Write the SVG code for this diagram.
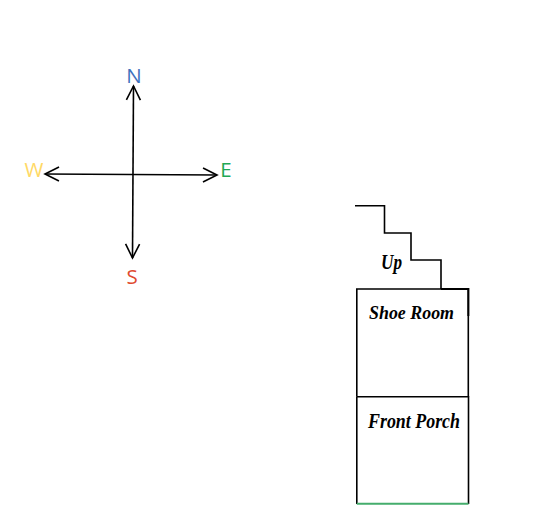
<svg xmlns="http://www.w3.org/2000/svg" width="558" height="530" viewBox="0 0 558 530">
  <style>
    .ln { fill: none; stroke: #000; stroke-width: 1.6; }
    .dir { font-family: "Open Sans", "Liberation Sans", sans-serif; font-size: 20.5px; text-anchor: middle; }
    .hand { font-family: "Liberation Serif", serif; font-style: italic; font-weight: bold; fill: #000; }
  </style>
  <defs>
    <marker id="open" markerUnits="userSpaceOnUse" markerWidth="18" markerHeight="18" refX="15" refY="8" orient="auto-start-reverse" viewBox="0 0 18 18">
      <path d="M1 1 L15 8 L1 15" fill="none" stroke="#000" stroke-width="1.6"/>
    </marker>
  </defs>
  <rect width="558" height="530" fill="#fff"/>
  <g id="connectors">
    <line class="ln" x1="133.5" y1="86" x2="132.5" y2="258" marker-start="url(#open)" marker-end="url(#open)"/>
    <line class="ln" x1="45" y1="174" x2="217" y2="175" marker-start="url(#open)" marker-end="url(#open)"/>
  </g>
  <g id="north"><text class="dir" x="134" y="83" fill="#3f72bd">N</text></g>
  <g id="west"><text class="dir" x="34" y="177" fill="#ffd966">W</text></g>
  <g id="east"><text class="dir" x="226" y="177" fill="#1fa855">E</text></g>
  <g id="south"><text class="dir" x="132" y="284" fill="#e04a2f">S</text></g>
  <g id="stairs">
    <path class="ln" d="M355 205.7H384.5V233H411V260H441V289"/>
    <text class="hand" x="381" y="269" font-size="20" textLength="21" lengthAdjust="spacingAndGlyphs">Up</text>
  </g>
  <g id="shoe-room">
    <path class="ln" d="M441 289H356.8V396.7M468.3 316V396.7"/>
    <path d="M441 289H468.3V316" fill="none" stroke="#000" stroke-width="2.2"/>
    <text class="hand" x="369" y="319" font-size="19" textLength="85" lengthAdjust="spacingAndGlyphs">Shoe Room</text>
  </g>
  <g id="front-porch">
    <path class="ln" d="M356.8 396.7H468.5V504M356.8 396.7V504"/>
    <line x1="356.8" y1="503.8" x2="468.5" y2="503.8" stroke="#45ad6c" stroke-width="2"/>
    <text class="hand" x="368" y="428" font-size="21" textLength="92" lengthAdjust="spacingAndGlyphs">Front Porch</text>
  </g>
</svg>
